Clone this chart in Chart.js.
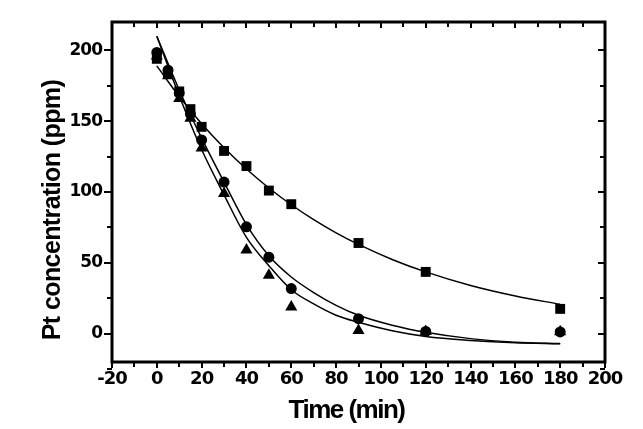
<!DOCTYPE html>
<html>
<head>
<meta charset="utf-8">
<script src="https://cdn.jsdelivr.net/npm/chart.js@4"></script>
<style>
html,body{margin:0;padding:0;background:#fff;}
#wrap{width:643px;height:429px;}
</style>
</head>
<body>
<div id="wrap"><canvas id="c" width="643" height="429"></canvas></div>
<script>
// ---- data ----
const time = [0, 5, 10, 15, 20, 30, 40, 50, 60, 90, 120, 180];
const squares = [194, 184, 171, 158.5, 146, 129, 118.3, 101, 91.4, 64, 43.6, 17.5];
const circles = [198.5, 186, 170, 155, 136.7, 107, 75.4, 54, 31.8, 10.6, 1.6, 1.2];
const triangles = [196, 182, 166, 152, 131, 99, 59, 41.2, 18.8, 2.3, 1.6, 1.4];

const fitTime = [0, 10, 20, 30, 40, 50, 60, 70, 80, 90, 105, 120, 140, 160, 180];
const fitSquares = [189, 167.4, 148.2, 131.2, 116.2, 102.8, 91.0, 80.5, 71.2, 63.0, 52.4, 43.6, 34.0, 26.6, 20.7];
const fitCircles = [210, 172, 138, 107, 77, 55, 40, 29, 20, 13, 6, 1, -3.5, -6, -7];
const fitTriangles = [210, 168, 130, 98, 68, 48, 31, 21, 13, 8, 2, -2, -4.8, -6.5, -7.2];

const xTicks = [-20, 0, 20, 40, 60, 80, 100, 120, 140, 160, 180, 200];
const xMinorTicks = [-10, 10, 30, 50, 70, 90, 110, 130, 150, 170, 190];
const yTicks = [0, 50, 100, 150, 200];
const yMinorTicks = [-25, 25, 75, 125, 175];

const xTitle = 'Time (min)';
const yTitle = 'Pt concentration (ppm)';

function pts(xs, ys){ return xs.map((x,i)=>({x:x, y:ys[i]})); }

const spacingPlugin = {
  id: 'spacingPlugin',
  beforeDraw(chart){ chart.ctx.letterSpacing = '-1px'; }
};

const framePlugin = {
  id: 'framePlugin',
  afterDraw(chart){
    const ctx = chart.ctx;
    const a = chart.chartArea;
    const xs = chart.scales.x, ys = chart.scales.y;
    ctx.save();
    ctx.strokeStyle = '#000';
    // frame
    ctx.lineWidth = 3;
    ctx.strokeRect(a.left, a.top, a.right - a.left, a.bottom - a.top);
    // ticks
    ctx.lineWidth = 2;
    ctx.beginPath();
    xTicks.forEach(v=>{
      const p = Math.round(xs.getPixelForValue(v));
      ctx.moveTo(p, a.bottom); ctx.lineTo(p, a.bottom + 6);
      ctx.moveTo(p, a.top); ctx.lineTo(p, a.top + 6);
    });
    xMinorTicks.forEach(v=>{
      const p = Math.round(xs.getPixelForValue(v));
      ctx.moveTo(p, a.bottom); ctx.lineTo(p, a.bottom + 5);
      ctx.moveTo(p, a.top); ctx.lineTo(p, a.top + 5);
    });
    yTicks.forEach(v=>{
      const p = Math.round(ys.getPixelForValue(v));
      ctx.moveTo(a.left - 8, p); ctx.lineTo(a.left, p);
      ctx.moveTo(a.right, p); ctx.lineTo(a.right - 7, p);
    });
    yMinorTicks.forEach(v=>{
      const p = Math.round(ys.getPixelForValue(v));
      ctx.moveTo(a.left - 5, p); ctx.lineTo(a.left, p);
      ctx.moveTo(a.right, p); ctx.lineTo(a.right - 5, p);
    });
    ctx.stroke();
    // axis titles
    ctx.fillStyle = '#000';
    ctx.font = 'bold 26px "Liberation Sans", Arial, sans-serif';
    ctx.letterSpacing = '-1.5px';
    ctx.textAlign = 'center';
    ctx.textBaseline = 'alphabetic';
    ctx.fillText(xTitle, (a.left + a.right)/2 - 12, a.bottom + 56);
    ctx.save();
    ctx.font = 'bold 25px "Liberation Sans", Arial, sans-serif';
    ctx.letterSpacing = '-0.6px';
    ctx.translate(60, (a.top + a.bottom)/2 + 18);
    ctx.rotate(-Math.PI/2);
    ctx.fillText(yTitle, 0, 0);
    ctx.restore();
    ctx.restore();
  }
};

const markerBase = {showLine:false, backgroundColor:'#000', borderColor:'#000', borderWidth:0};
const lineBase = {showLine:true, pointRadius:0, borderColor:'#000', borderWidth:1.5, fill:false,
  tension:0.4, cubicInterpolationMode:'monotone'};

new Chart(document.getElementById('c'), {
  type: 'scatter',
  data: {
    datasets: [
      Object.assign({label:'fit squares', data: pts(fitTime, fitSquares), order:5}, lineBase),
      Object.assign({label:'fit circles', data: pts(fitTime, fitCircles), order:5}, lineBase),
      Object.assign({label:'fit triangles', data: pts(fitTime, fitTriangles), order:5}, lineBase),
      Object.assign({label:'squares', data: pts(time, squares), pointStyle:'rect', pointRadius:7, order:3}, markerBase),
      Object.assign({label:'triangles', data: pts(time, triangles), pointStyle:'triangle', pointRadius:7, order:2}, markerBase),
      Object.assign({label:'circles', data: pts(time, circles), pointStyle:'circle', pointRadius:5.5, order:1}, markerBase)
    ]
  },
  options: {
    responsive: false,
    animation: false,
    devicePixelRatio: 1,
    layout: {padding: {left:0, right:38, top:22, bottom:0}},
    plugins: {legend:{display:false}, tooltip:{enabled:false}},
    scales: {
      x: {
        type:'linear', min:-20, max:200,
        afterBuildTicks(s){ s.ticks = xTicks.map(v=>({value:v})); },
        afterFit(s){ s.height = 67; },
        grid:{display:false, drawTicks:false},
        border:{display:false},
        ticks:{padding:7, color:'#000', maxRotation:0, autoSkip:false,
          font:{family:'"DejaVu Sans"', weight:'bold', size:18}}
      },
      y: {
        type:'linear', min:-20, max:220,
        afterBuildTicks(s){ s.ticks = yTicks.map(v=>({value:v})); },
        afterFit(s){ s.width = 112; },
        grid:{display:false, drawTicks:false},
        border:{display:false},
        ticks:{padding:10, color:'#000', autoSkip:false,
          font:{family:'"DejaVu Sans"', weight:'bold', size:17}}
      }
    }
  },
  plugins:[spacingPlugin, framePlugin]
});
</script>
</body>
</html>
